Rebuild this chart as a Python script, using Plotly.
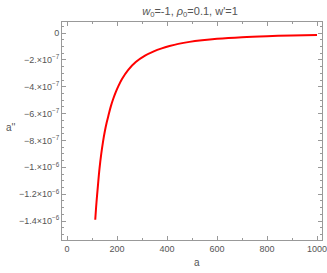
import plotly.graph_objects as go

# Data (a vs a'', in units of 1e-6)
a_vals = [113, 118, 124, 130, 137, 144, 151, 159, 167, 175, 184, 195, 205, 220, 245, 275, 312, 345, 379, 410, 445, 490, 540, 600, 700, 800, 900, 1000]
acc_e6 = [-1.39, -1.26, -1.13, -1.01, -0.90, -0.81, -0.735, -0.665, -0.605, -0.548, -0.495, -0.44, -0.397, -0.342, -0.274, -0.216, -0.168, -0.138, -0.114, -0.097, -0.081, -0.066, -0.054, -0.043, -0.031, -0.0235, -0.0185, -0.0145]
acc_vals = [v * 1e-6 for v in acc_e6]

y_tickvals = [0, -2e-7, -4e-7, -6e-7, -8e-7, -1e-6, -1.2e-6, -1.4e-6]
y_ticktext = ["0", "−2.×10<sup>−7</sup>", "−4.×10<sup>−7</sup>", "−6.×10<sup>−7</sup>",
              "−8.×10<sup>−7</sup>", "−1.×10<sup>−6</sup>", "−1.2×10<sup>−6</sup>", "−1.4×10<sup>−6</sup>"]
x_tickvals = [0, 200, 400, 600, 800, 1000]
x_ticktext = ["0", "200", "400", "600", "800", "1000"]

GRAY = "#555555"
FRAME = "#999999"
FONT = "Liberation Sans, Arial, sans-serif"

fig = go.Figure()
fig.add_trace(go.Scatter(x=a_vals, y=acc_vals, mode="lines",
                         line=dict(color="#ff0000", width=2, shape="spline", smoothing=1.0),
                         hoverinfo="skip", showlegend=False))

axis_common = dict(showgrid=False, zeroline=False, showline=True, linecolor=FRAME, linewidth=1,
                   mirror="ticks", ticks="inside", ticklen=4, tickcolor=FRAME, automargin=False,
                   ticklabeloverflow="allow",
                   tickfont=dict(family=FONT, size=9, color=GRAY))

fig.update_xaxes(range=[-20, 1020], tickvals=x_tickvals, ticktext=x_ticktext,
                 minor=dict(ticks="inside", ticklen=2, tickcolor=FRAME, dtick=100, tick0=0),
                 **axis_common)
fig.update_yaxes(range=[-1.541e-6, 0.082e-6], tickvals=y_tickvals, ticktext=y_ticktext,
                 minor=dict(ticks="inside", ticklen=2, tickcolor=FRAME, dtick=0.5e-7, tick0=0),
                 **axis_common)

plot_h = 273 - 22 - 33
plot_w = 327 - 62 - 5

fig.update_layout(
    width=327, height=273,
    margin=dict(l=62, r=5, t=22, b=33),
    paper_bgcolor="white", plot_bgcolor="white",
    font=dict(family=FONT, color=GRAY),
    title=dict(text="<i>w</i><sub>0</sub>=-1, <i>ρ</i><sub>0</sub>=0.1, w'=1",
               x=190 / 327, xanchor="center", y=1 - 11 / 273, yanchor="middle",
               font=dict(family=FONT, size=11, color=GRAY)),
    annotations=[
        dict(text="a''", x=(10 - 62) / plot_w, y=(240 - 127) / plot_h, xref="paper", yref="paper",
             showarrow=False, xanchor="center", yanchor="middle",
             font=dict(family=FONT, size=10, color=GRAY)),
        dict(text="a", x=(197 - 62) / plot_w, y=-(262 - 240) / plot_h, xref="paper", yref="paper",
             showarrow=False, xanchor="center", yanchor="middle",
             font=dict(family=FONT, size=10, color=GRAY)),
    ],
)

fig.write_html("out.html", config={"displayModeBar": False},
               post_script="document.body.style.margin='0';document.body.style.overflow='hidden';")
